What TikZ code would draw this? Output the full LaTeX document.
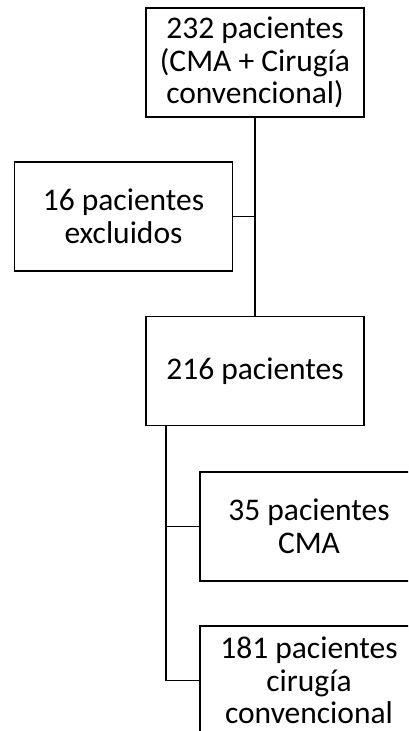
\documentclass[tikz,border=0pt]{standalone}
\usepackage{fontspec}
\setmainfont{Carlito}
\begin{document}
\begin{tikzpicture}[x=1pt,y=-1pt,
  box/.style={draw=black,line width=1.6pt,minimum width=218pt,minimum height=109pt,inner sep=0pt,align=center,font=\fontsize{31.5}{32.5}\selectfont},
  conn/.style={draw=black,line width=1.6pt}]
\useasboundingbox (0,0) rectangle (408,731);
\clip (0,0) rectangle (408,731);
\node[box] (b1) at (255,62.5) {232 pacientes\\(CMA + Cirugía\\convencional)};
\node[box] (b2) at (123.5,216.5) {16 pacientes\\excluidos};
\node[box] (b3) at (255,371) {216 pacientes};
\node[box] (b4) at (309,526.5) {35 pacientes\\CMA};
\node[box] (b5) at (309,680.5) {181 pacientes\\cirugía\\convencional};
\draw[conn] (b1.south) -- (b3.north);
\draw[conn] (b2.east) -- (b2.east -| b1.south);
\coordinate (t) at ([xshift=21pt]b3.south west);
\draw[conn] (t) |- (b4.west);
\draw[conn] (t) |- (b5.west);
\end{tikzpicture}
\end{document}
